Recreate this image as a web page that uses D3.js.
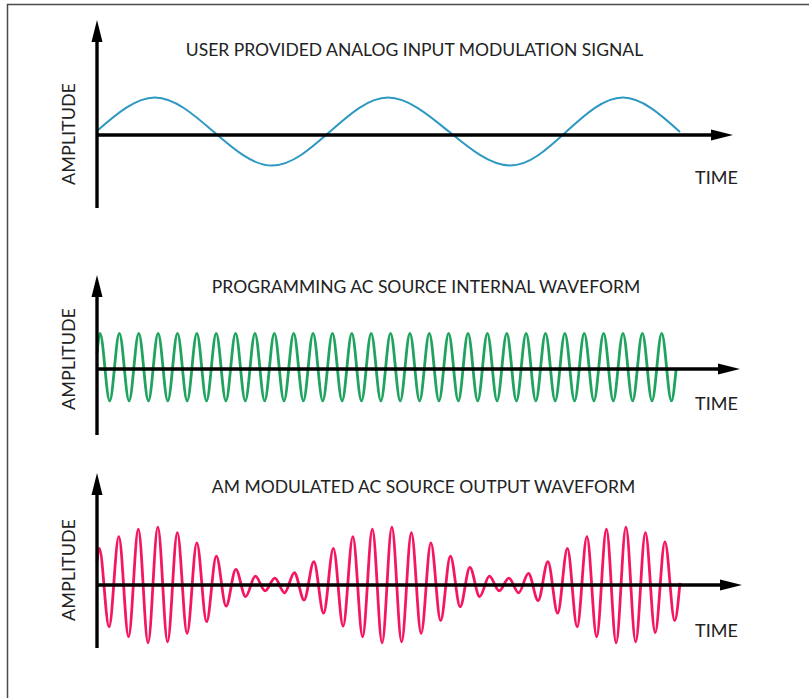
<!DOCTYPE html>
<html><head><meta charset="utf-8">
<script src="https://cdn.jsdelivr.net/npm/d3@7"></script>
<style>body{margin:0;background:#fff}svg{display:block}</style>
</head><body>
<script>
// ---------------- data ----------------
const titles = [
  "USER PROVIDED ANALOG INPUT MODULATION SIGNAL",
  "PROGRAMMING AC SOURCE INTERNAL WAVEFORM",
  "AM MODULATED AC SOURCE OUTPUT WAVEFORM"
];
const xLabel = "TIME";
const yLabel = "AMPLITUDE";

// Modulating signal: times (ms) of start, crests, midpoints, troughs, end; amplitude there
const modTime  = [0, 3.01, 6.04, 9.08, 12.09, 15.10, 18.26, 21.43, 24.36, 27.29, 30.25];
const modValue = [0.12, 1.10, 0.10, -0.90, 0.10, 1.10, 0.10, -0.90, 0.10, 1.10, 0.09];

// Carrier (internal waveform): crest / trough amplitudes
const carrierStartValue = 0.45;
const carrierFirstCrest = 0.156;   // ms
const carrierPeriod = 1.005;       // ms
const carrierCrests = [1.05,1.05,1.05,1.05,1.05,1.05,1.05,1.05,1.05,1.05,1.05,1.05,1.05,1.05,1.05,
                       1.05,1.05,1.05,1.05,1.05,1.05,1.05,1.05,1.05,1.05,1.05,1.05,1.05,1.05,1.05];
const carrierTroughs = [-0.94,-0.94,-0.94,-0.94,-0.94,-0.94,-0.94,-0.94,-0.94,-0.94,-0.94,-0.94,-0.94,-0.94,-0.94,
                        -0.94,-0.94,-0.94,-0.94,-0.94,-0.94,-0.94,-0.94,-0.94,-0.94,-0.94,-0.94,-0.94,-0.94,-0.94];
const carrierEnd = {t: 30.05, v: 0};

// AM modulated output: crest / trough amplitudes
const amStartValue = 0.7;
const amFirstCrest = 0.12;   // ms
const amPeriod = 1.012;      // ms
const amCrests = [1.08,1.42,1.64,1.70,1.54,1.24,0.85,0.46,0.26,0.20,0.36,0.69,1.08,1.42,1.64,
                  1.70,1.54,1.24,0.85,0.52,0.26,0.20,0.34,0.69,1.08,1.42,1.64,1.70,1.54,1.27];
const amTroughs = [-1.23,-1.52,-1.70,-1.67,-1.42,-1.08,-0.62,-0.34,-0.17,-0.23,-0.44,-0.83,-1.21,-1.52,-1.70,
                   -1.67,-1.42,-1.05,-0.64,-0.34,-0.17,-0.23,-0.46,-0.83,-1.23,-1.52,-1.70,-1.67,-1.40,-1.05];
const amEnd = {t: 30.25, v: 0.06};

// ---------------- build series ----------------
const modSeries = modTime.map((t, i) => ({t, v: modValue[i]}));
function waveSeries(startV, first, period, crests, troughs, end) {
  const pts = [{t: 0, v: startV}];
  crests.forEach((c, i) => {
    pts.push({t: first + i * period, v: c});
    pts.push({t: first + (i + 0.5) * period, v: troughs[i]});
  });
  pts.push(end);
  return pts;
}
const carrierSeries = waveSeries(carrierStartValue, carrierFirstCrest, carrierPeriod, carrierCrests, carrierTroughs, carrierEnd);
const amSeries = waveSeries(amStartValue, amFirstCrest, amPeriod, amCrests, amTroughs, amEnd);

// ---------------- layout ----------------
const W = 809, H = 698;
const svg = d3.select("body").append("svg").attr("width", W).attr("height", H);

// frame
svg.append("path").attr("d", "M7.5,698V4.5H809").attr("fill", "none")
   .attr("stroke", "#4a4a4a").attr("stroke-width", 1.5);

const x = d3.scaleLinear().domain([0, 33]).range([97, 733]);
const unit = 34;
const font = "Lato, 'Open Sans', sans-serif";

const panels = [
  {title: titles[0], titleX: 414.5, titleY: 56, axisY: 135, top: 20, bottom: 208, xTip: 733,
   ampY: 134, timeY: 183.5, data: modSeries, curve: d3.curveNatural, color: "#2d98c2", width: 2},
  {title: titles[1], titleX: 426, titleY: 292.5, axisY: 369, top: 275, bottom: 435, xTip: 740,
   ampY: 359, timeY: 410, data: carrierSeries, curve: d3.curveMonotoneX, color: "#1fa35e", width: 2.8},
  {title: titles[2], titleX: 423.5, titleY: 493, axisY: 585, top: 473, bottom: 648, xTip: 742,
   ampY: 570, timeY: 636.5, data: amSeries, curve: d3.curveMonotoneX, color: "#f4175f", width: 2.8}
];

const arrowLen = 22, arrowHalf = 5.5;

panels.forEach(p => {
  const y = d3.scaleLinear().domain([-1, 1]).range([p.axisY + unit, p.axisY - unit]);
  const g = svg.append("g");
  const x0 = x(0);

  // waveform
  const line = d3.line().x(d => x(d.t)).y(d => y(d.v)).curve(p.curve);
  g.append("path").datum(p.data).attr("d", line).attr("fill", "none")
    .attr("stroke", p.color).attr("stroke-width", p.width).attr("stroke-linejoin", "round");

  // horizontal axis
  g.append("line").attr("x1", x0).attr("x2", p.xTip - arrowLen + 2)
    .attr("y1", y(0)).attr("y2", y(0)).attr("stroke", "#000").attr("stroke-width", 3.4);
  g.append("path")
    .attr("d", `M${p.xTip},${y(0)}L${p.xTip - arrowLen},${y(0) - arrowHalf}L${p.xTip - arrowLen},${y(0) + arrowHalf}Z`)
    .attr("fill", "#000");

  // vertical axis
  g.append("line").attr("x1", x0).attr("x2", x0)
    .attr("y1", p.bottom).attr("y2", p.top + arrowLen - 2).attr("stroke", "#000").attr("stroke-width", 3.4);
  g.append("path")
    .attr("d", `M${x0},${p.top}L${x0 - arrowHalf},${p.top + arrowLen}L${x0 + arrowHalf},${p.top + arrowLen}Z`)
    .attr("fill", "#000");

  // texts
  g.append("text").attr("x", p.titleX).attr("y", p.titleY).attr("text-anchor", "middle")
    .attr("font-family", font).attr("font-size", 17.5).attr("fill", "#222").text(p.title);
  g.append("text").attr("x", 695).attr("y", p.timeY)
    .attr("font-family", font).attr("font-size", 18).attr("fill", "#222").text(xLabel);
  g.append("text").attr("transform", `translate(74.5,${p.ampY}) rotate(-90)`).attr("text-anchor", "middle")
    .attr("font-family", font).attr("font-size", 18).attr("fill", "#222").text(yLabel);
});
</script>
</body></html>
